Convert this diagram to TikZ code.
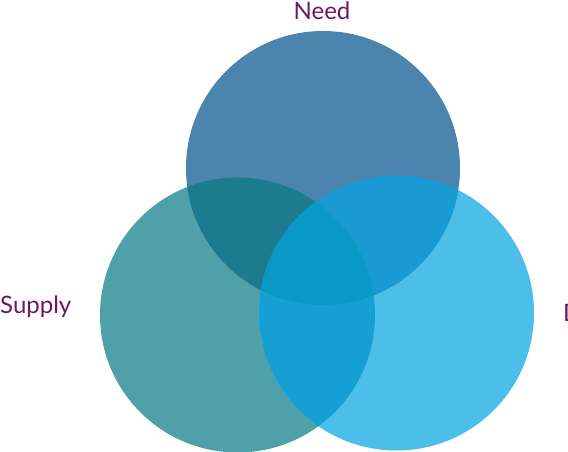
\documentclass[tikz,border=0pt]{standalone}
\usepackage{fontspec}
\setmainfont{Lato}
\definecolor{needblue}{HTML}{4B84AC}
\definecolor{supplyteal}{HTML}{50A0AA}
\definecolor{demandblue}{HTML}{4BBEEA}
\definecolor{needsupply}{HTML}{1C7B8E}
\definecolor{needdemand}{HTML}{1A9AD3}
\definecolor{supplydemand}{HTML}{169FD3}
\definecolor{allthree}{HTML}{0A98C6}
\definecolor{labelpurple}{HTML}{6A1868}
\tikzset{
  label/.style={text=labelpurple, font=\fontsize{24}{28}\selectfont, inner sep=0pt},
}
\begin{document}
\begin{tikzpicture}[x=1pt,y=-1pt]
		\useasboundingbox (0,0) rectangle (568,452);
		\clip (0,0) rectangle (568,452);
		\coordinate (need) at (323,168);
		\coordinate (supply) at (237.5,315);
		\coordinate (demand) at (396.5,313);
		
		\fill[supplyteal] (supply) circle (137.5);
		\fill[demandblue] (demand) circle (137.5);
		\fill[needblue] (need) circle (137);
		
		\begin{scope}
			\clip (need) circle (137);
			\fill[needsupply] (supply) circle (137.5);
			\fill[needdemand] (demand) circle (137.5);
		\end{scope}
		\begin{scope}
			\clip (supply) circle (137.5);
			\fill[supplydemand] (demand) circle (137.5);
			\clip (need) circle (137);
			\fill[allthree] (demand) circle (137.5);
		\end{scope}
		
		\node[label] (needlabel) at (322,11) {Need};
		\node[label, anchor=west] (supplylabel) at (0,307) {Supply};
		\node[label, anchor=west] (demandlabel) at (563,313) {D};
	\end{tikzpicture}
\end{document}
